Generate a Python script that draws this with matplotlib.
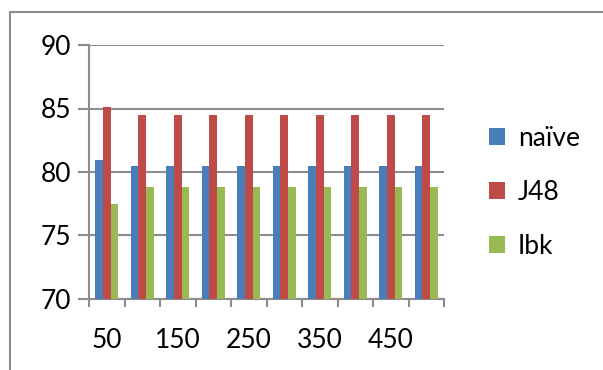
import matplotlib.pyplot as plt
import numpy as np

plt.rcParams['font.family'] = ['Lato', 'DejaVu Sans']

sizes = [50, 100, 150, 200, 250, 300, 350, 400, 450, 500]
naive = [80.95, 80.5, 80.5, 80.5, 80.5, 80.5, 80.5, 80.5, 80.5, 80.5]
j48 = [85.1, 84.5, 84.5, 84.5, 84.5, 84.5, 84.5, 84.5, 84.5, 84.5]
ibk = [77.5, 78.85, 78.85, 78.85, 78.85, 78.85, 78.85, 78.85, 78.85, 78.85]
series_names = ['naïve', 'J48', 'Ibk']
colors = ['#4a7ebb', '#be4b48', '#98b954']

fig = plt.figure(figsize=(6.03, 3.70), dpi=100)
fig.patch.set_facecolor('white')

# outer chart frame
frame = plt.Rectangle((10 / 603, -0.01), 1.0, 1 - 12 / 370 + 0.01,
                      transform=fig.transFigure, fill=False,
                      edgecolor='#8c8c8c', linewidth=1.5)
fig.patches.append(frame)

ax = fig.add_axes([89 / 603, 1 - 299 / 370, (444 - 89) / 603, (299 - 45) / 370])

x = np.arange(len(sizes))
w = 0.22
for i, (vals, name, c) in enumerate(zip([naive, j48, ibk], series_names, colors)):
    ax.bar(x + (i - 1) * w, [v - 70 for v in vals], w, bottom=70, color=c,
           label=name, zorder=3)

ax.set_ylim(70, 90)
ax.set_xlim(-0.5, len(sizes) - 0.5)
ax.set_yticks([70, 75, 80, 85, 90])
ax.yaxis.grid(True, color='#8c8c8c', linewidth=1.5, zorder=0)

ax.set_xticks(x[::2])
ax.set_xticklabels([str(s) for s in sizes[::2]])
ax.set_xticks(np.arange(-0.5, len(sizes), 1.0), minor=True)
ax.tick_params(axis='x', which='major', length=0, pad=21, labelsize=19)
ax.tick_params(axis='x', which='minor', length=6, width=1.5, color='#8c8c8c')
ax.tick_params(axis='y', length=8, width=1.5, color='#8c8c8c', labelsize=19, pad=5)

for side in ['top', 'right']:
    ax.spines[side].set_visible(False)
for side in ['left', 'bottom']:
    ax.spines[side].set_color('#8c8c8c')
    ax.spines[side].set_linewidth(1.5)

ax.legend(loc='center left', bbox_to_anchor=(1.06, 0.42), frameon=False,
          fontsize=19, handlelength=0.6, handleheight=0.6, labelspacing=1.1,
          handletextpad=0.5)

fig.savefig('out.png', dpi=100)
